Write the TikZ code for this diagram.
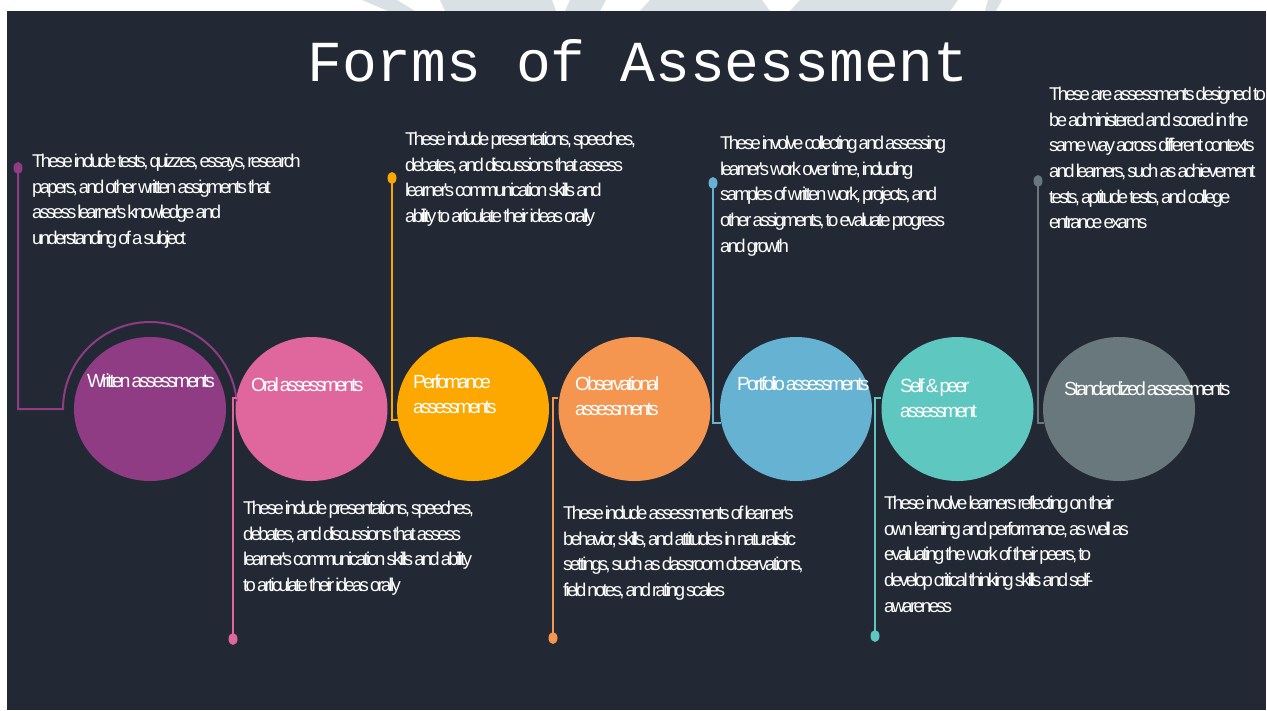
\documentclass[tikz,border=0pt]{standalone}
\usepackage{fontspec}
\setmainfont{Liberation Sans}
\newfontfamily\tightfont[LetterSpace=-14.5,WordSpace=0.45]{Liberation Sans}
\newfontfamily\titlefont{Liberation Mono}
\usetikzlibrary{shapes.geometric,positioning}

\definecolor{panel}{RGB}{35,41,52}
\definecolor{haze}{RGB}{218,225,229}
\definecolor{cWritten}{RGB}{143,60,133}
\definecolor{cOral}{RGB}{224,102,158}
\definecolor{cPerf}{RGB}{253,168,0}
\definecolor{cObs}{RGB}{245,150,80}
\definecolor{cFolio}{RGB}{102,178,211}
\definecolor{cPeer}{RGB}{94,200,192}
\definecolor{cStd}{RGB}{104,120,124}

\begin{document}
\begin{tikzpicture}[x=1pt,y=-1pt,on grid,node distance=161.5pt,
  bubble/.style={ellipse,minimum width=152pt,minimum height=144pt,inner sep=0pt},
  bubbletext/.style={text=white,font=\tightfont\fontsize{19}{25}\selectfont,align=left,inner sep=0pt,anchor=north west},
  info/.style={text=white,font=\tightfont\fontsize{18.5}{25.6}\selectfont,align=left,inner sep=0pt,anchor=north west},
  knob/.style={ellipse,minimum width=9pt,minimum height=12pt,inner sep=0pt},
  link/.style={line width=2pt}]
\useasboundingbox (0,0) rectangle (1267,710);
\fill[white] (0,0) rectangle (1267,710);

% faint shapes peeking over the panel
\fill[haze] (362,0) -- (397,0) -- (415,11) -- (388,11) -- cycle;
\fill[haze] (440,0) -- (552,0) -- (556,11) -- (445,11) -- cycle;
\fill[haze] (570,0) -- (606,0) -- (600,11) -- (565,11) -- cycle;
\fill[haze] (650,0) -- (762,0) -- (770,11) -- (640,11) -- cycle;
\fill[haze] (800,0) -- (958,0) -- (950,11) -- (790,11) -- cycle;
\fill[haze] (988,0) -- (1002,0) -- (996,11) -- (985,11) -- cycle;

\fill[panel] (7,11) rectangle (1266,710);

\node[text=white,font=\titlefont\fontsize{58}{60}\selectfont] (title) at (638,61) {Forms of Assessment};

% the seven bubbles
\node[bubble,fill=cWritten] (written) at (150,409) {};
\node[bubble,fill=cOral,right=of written] (oral) {};
\node[bubble,fill=cPerf,right=of oral] (perf) {};
\node[bubble,fill=cObs,right=of perf] (obs) {};
\node[bubble,fill=cFolio,right=of obs] (folio) {};
\node[bubble,fill=cPeer,right=of folio] (peer) {};
\node[bubble,fill=cStd,right=of peer] (std) {};

\node[bubbletext] (writtenT) at (87,374) {Written assessments};
\node[bubbletext] (oralT) at (251,378) {Oral assessments};
\node[bubbletext] (perfT) at (413,375) {Perfomance\\assessments};
\node[bubbletext] (obsT) at (575,377) {Observational\\assessments};
\node[bubbletext] (folioT) at (737,377) {Portfolio assessments};
\node[bubbletext] (peerT) at (900,379) {Self \& peer\\assessment};
\node[bubbletext] (stdT) at (1064,382) {Standardized assessments};

% descriptions
\node[info] (writtenD) at (32,154) {These include tests, quizzes, essays, research\\papers, and other written assigments that\\assess learner's knowledge and\\understanding of a subject};
\node[info] (perfD) at (405,132) {These include presentations, speeches,\\debates, and discussions that assess\\learner's communication skills and\\ability to articulate their ideas orally};
\node[info] (folioD) at (720,136) {These involve collecting and assessing\\learner's work over time, including\\samples of written work, projects, and\\other assigments, to evaluate progress\\and growth};
\node[info] (stdD) at (1049,87) {These are assessments designed to\\be administered and scored in the\\same way across different contexts\\and learners, such as achievement\\tests, aptitude tests, and college\\entrance exams};
\node[info] (oralD) at (243,501) {These include presentations, speeches,\\debates, and discussions that assess\\learner's communication skills and ability\\to articulate their ideas orally};
\node[info] (obsD) at (563,506) {These include assessments of learner's\\behavior, skills, and attitudes in naturalistic\\settings, such as classroom observations,\\field notes, and rating scales};
\node[info] (peerD) at (884,496) {These involve learners reflecting on their\\own learning and performance, as well as\\evaluating the work of their peers, to\\develop critical thinking skills and self-\\awareness};

% end knobs and feet of the leader lines
\node[knob,fill=cWritten] (writtenK) at (18,168) {};
\node[knob,fill=cOral] (oralK) at (233,639) {};
\node[knob,fill=cPerf] (perfK) at (392,178) {};
\node[knob,fill=cObs] (obsK) at (553,638) {};
\node[knob,fill=cFolio] (folioK) at (713,183) {};
\node[knob,fill=cPeer] (peerK) at (875,636) {};
\node[knob,fill=cStd] (stdK) at (1038,181) {};
\coordinate (writtenF) at (63,409);
\coordinate (oralF) at (237,398);
\coordinate (perfF) at (398,420);
\coordinate (obsF) at (558,398);
\coordinate (folioF) at (721,423);
\coordinate (peerF) at (881,398);
\coordinate (stdF) at (1044,423);

\draw[link,cWritten] (writtenK.center) |- (writtenF) arc[start angle=180,end angle=355,radius=87];
\draw[link,cOral] (oralF) -| (oralK.center);
\draw[link,cPerf] (perfK.center) |- (perfF);
\draw[link,cObs] (obsF) -| (obsK.center);
\draw[link,cFolio] (folioK.center) |- (folioF);
\draw[link,cPeer] (peerF) -| (peerK.center);
\draw[link,cStd] (stdK.center) |- (stdF);
\end{tikzpicture}
\end{document}
